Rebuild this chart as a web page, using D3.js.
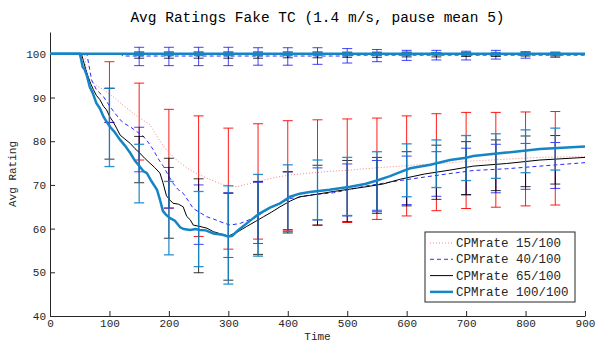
<!DOCTYPE html>
<html>
<head>
<meta charset="utf-8">
<script src="https://cdn.jsdelivr.net/npm/d3@7"></script>
<style>
  body { margin: 0; background: #fff; }
  svg { font-family: "Liberation Mono", monospace; }
  .axis path, .axis line { stroke: #262626; }
  .axis text { fill: #262626; font-size: 11px; font-family: "Liberation Mono", monospace; }
</style>
</head>
<body>
<div id="chart"></div>
<script>
// error bar sample times
const barTimes = [100, 150, 200, 250, 300, 350, 400, 450, 500, 550, 600, 650, 700, 750, 800, 850];
const topBarTimes = [150, 200, 250, 300, 350, 400, 450, 500, 550, 600, 650, 700, 750, 800, 850];

// lower curves (rating of fake TC nodes)
const redT = [0, 58, 62, 67, 73, 81, 90, 98, 106, 118, 129, 140, 151, 160, 168, 174, 180, 188, 196, 205, 213, 219, 228, 236, 247, 258, 275, 292, 314, 336, 359, 382, 404, 437, 470, 505, 547, 589, 630, 673, 712, 768, 824, 900];
const redV = [100, 100, 95.6, 94.3, 93.3, 92.5, 91.8, 91, 90.2, 88.8, 87.6, 86.4, 85.3, 84.5, 83.8, 82.5, 81.1, 79.5, 78, 76.8, 75.7, 75, 74.2, 73.4, 72.6, 71.9, 70.9, 70, 69.6, 70.3, 71.1, 71.8, 72.3, 72.7, 73.1, 73.4, 73.9, 74.3, 74.7, 75.1, 75.5, 75.9, 76.3, 76.5];

const blueT = [0, 62, 70, 78, 90, 101, 110, 118, 126, 135, 146, 157, 165, 174, 182, 191, 199, 207, 215, 224, 233, 241, 252, 264, 275, 286, 303, 320, 331, 342, 354, 365, 376, 387, 404, 421, 437, 477, 533, 589, 630, 673, 712, 768, 824, 900];
const blueV = [100, 100, 94, 91.8, 90.2, 87.9, 86.3, 84.9, 84, 83.3, 82.2, 81.1, 79.8, 78, 76, 74.2, 72.2, 70.4, 69, 68.1, 66.3, 64.6, 63.7, 62.7, 62.2, 61.6, 60.8, 61.2, 61.8, 62.4, 63.3, 64.3, 65.1, 65.8, 66.9, 67.2, 67.7, 68.2, 69.8, 71, 71.8, 72.6, 73.3, 73.7, 74.3, 75.1];

const blackT = [0, 53, 56, 60, 64, 69, 73, 78, 84, 90, 95, 101, 106, 112, 118, 126, 135, 143, 151, 160, 168, 176, 185, 190, 196, 202, 207, 216, 224, 230, 236, 241, 252, 264, 275, 287, 300, 315, 331, 345, 359, 373, 387, 404, 420, 437, 477, 533, 560, 589, 630, 673, 712, 768, 824, 900];
const blackV = [100, 100, 98.5, 96.5, 94.8, 93, 91.8, 90.5, 89.5, 88, 87.2, 85.5, 84.5, 83, 81.4, 80.5, 79.5, 78.3, 77.3, 76, 75, 74, 72.7, 70.5, 67.5, 66.5, 65.8, 65.6, 65, 62.8, 62, 60.8, 60.5, 60.1, 59.3, 58.8, 58.3, 59.2, 60.5, 61.6, 62.7, 63.8, 65, 66.3, 67.3, 67.6, 68.5, 69.6, 70.2, 71.3, 72.5, 73.4, 74.3, 74.9, 75.7, 76.3];

const cyanT = [0, 50, 52, 55, 58, 62, 67, 72, 78, 84, 90, 95, 101, 108, 118, 126, 135, 143, 151, 157, 163, 170, 180, 185, 190, 195, 202, 210, 219, 225, 236, 245, 252, 262, 275, 290, 300, 306, 318, 331, 342, 353, 370, 387, 404, 420, 437, 470, 505, 530, 550, 572, 590, 606, 640, 673, 700, 712, 768, 824, 900];
const cyanV = [100, 100, 99, 97, 96.5, 95, 92.4, 91, 88.7, 87.5, 85.6, 84.5, 83.3, 82.2, 80.3, 79, 77.3, 75.5, 74.2, 73.2, 72.7, 71, 68.9, 66.6, 64, 63.2, 62.4, 61.8, 60.3, 59.9, 59.7, 59.9, 59.7, 59.6, 58.9, 58.6, 58.2, 58.3, 59.8, 61.2, 62.4, 63.5, 64.8, 65.8, 67.3, 68, 68.4, 68.9, 69.6, 70.2, 71, 72, 73, 73.8, 74.6, 75.7, 76.2, 76.6, 77.4, 78.2, 78.8];

// upper curves (rating of honest nodes)
const redTopT = [0, 900];
const redTopV = [100, 100];
const blueTopT = [0, 120, 122, 500, 510, 900];
const blueTopV = [100, 100, 99.5, 99.5, 99.7, 99.7];
const blackTopT = [0, 900];
const blackTopV = [100, 100];
const cyanTopT = [0, 900];
const cyanTopV = [100, 100];

// error bars, lower curves
const redLo = [84.3, 75.7, 64.7, 58.2, 55.3, 57.6, 59.5, 60.8, 61.4, 62.1, 62.9, 64.1, 64.6, 64.9, 65.2, 65.4];
const redHi = [98.2, 93.3, 87.3, 85.8, 83.0, 84.0, 84.7, 84.9, 85.1, 85.3, 85.8, 86.3, 86.6, 86.6, 86.7, 86.8];
const blueLo = [84.3, 73.0, 64.7, 56.4, 53.4, 56.6, 59.8, 62.0, 62.9, 64.2, 65.5, 67.4, 67.7, 68.2, 69.0, 69.2];
const blueHi = [92.1, 83.2, 74.0, 70.0, 68.2, 70.6, 73.0, 73.9, 74.8, 75.6, 76.6, 77.6, 78.4, 79.3, 79.5, 79.7];
const blackLo = [75.9, 70.5, 57.8, 49.9, 48.2, 54.1, 59.0, 60.8, 61.6, 63.5, 65.2, 66.7, 67.8, 68.7, 69.6, 70.2];
const blackHi = [92.1, 81.1, 76.1, 71.4, 68.1, 70.8, 73.0, 74.5, 75.6, 76.3, 77.6, 79.1, 79.9, 80.3, 81.2, 81.3];
const cyanLo = [74.2, 65.9, 54.0, 51.3, 47.3, 53.7, 59.3, 62.0, 63.0, 63.9, 67.3, 69.4, 71.0, 71.5, 72.8, 73.4];
const cyanHi = [92.1, 79.3, 70.8, 68.5, 69.8, 72.4, 74.6, 75.7, 76.3, 77.6, 79.4, 80.3, 81.3, 81.7, 82.6, 83.0];

// error bars, upper curves
const blueTopLo = [97.3, 97.3, 97.3, 97.3, 97.4, 97.4, 97.6, 97.9, 98.2, 98.5, 98.6, 98.6, 98.8, 99.0, 99.2];
const blueTopHi = [101.5, 101.5, 101.5, 101.5, 101.4, 101.4, 101.4, 101.2, 101.0, 100.8, 100.8, 100.6, 100.8, 100.5, 100.4];
const blackTopLo = [99.0, 99.0, 99.0, 99.0, 99.0, 99.1, 99.1, 99.2, 99.2, 99.3, 99.3, 99.4, 99.4, 99.5, 99.5];
const blackTopHi = [100.4, 100.4, 100.4, 100.4, 100.4, 100.4, 100.4, 100.3, 100.3, 100.3, 100.3, 100.3, 100.2, 100.2, 100.2];
const cyanTopLo = [99.6, 99.6, 99.6, 99.6, 99.6, 99.6, 99.6, 99.6, 99.6, 99.6, 99.7, 99.7, 99.7, 99.7, 99.7];
const cyanTopHi = [100.4, 100.4, 100.4, 100.4, 100.4, 100.4, 100.4, 100.4, 100.4, 100.4, 100.3, 100.3, 100.3, 100.3, 100.3];

const xTicks = [0, 100, 200, 300, 400, 500, 600, 700, 800, 900];
const yTicks = [40, 50, 60, 70, 80, 90, 100];
const legendLabels = ["CPMrate 15/100", "CPMrate 40/100", "CPMrate 65/100", "CPMrate 100/100"];

const W = 597, H = 343;
const margin = {top: 32, right: 12, bottom: 27, left: 50};

const svg = d3.select("#chart").append("svg")
    .attr("width", W)
    .attr("height", H);

const x = d3.scaleLinear().domain([0, 900]).range([margin.left, W - margin.right]);
const y = d3.scaleLinear().domain([40, 105]).range([H - margin.bottom, margin.top]);

const zip = (ts, vs) => ts.map((t, i) => ({t: t, v: vs[i]}));

const series = [
    {low: zip(redT, redV), top: zip(redTopT, redTopV), lo: redLo, hi: redHi, tlo: null, thi: null,
     line: "#ff8080", width: 1, dash: "1,2", bar: "#ff0000", barOpacity: 0.9, barWidth: 1},
    {low: zip(blueT, blueV), top: zip(blueTopT, blueTopV), lo: blueLo, hi: blueHi, tlo: blueTopLo, thi: blueTopHi,
     line: "#2a2aff", width: 1, dash: "4,3", bar: "#0000ff", barOpacity: 0.75, barWidth: 1},
    {low: zip(blackT, blackV), top: zip(blackTopT, blackTopV), lo: blackLo, hi: blackHi, tlo: blackTopLo, thi: blackTopHi,
     line: "#000000", width: 1, dash: null, bar: "#000000", barOpacity: 0.8, barWidth: 1},
    {low: zip(cyanT, cyanV), top: zip(cyanTopT, cyanTopV), lo: cyanLo, hi: cyanHi, tlo: cyanTopLo, thi: cyanTopHi,
     line: "#1585c6", width: 2.5, dash: null, bar: "#1585c6", barOpacity: 0.9, barWidth: 1.3}
];

// axes
svg.append("g")
    .attr("class", "axis")
    .attr("transform", "translate(0," + (H - margin.bottom) + ")")
    .call(d3.axisBottom(x).tickValues(xTicks).tickSizeInner(-5).tickSizeOuter(0).tickPadding(3).tickFormat(d3.format("d")));

svg.append("g")
    .attr("class", "axis")
    .attr("transform", "translate(" + margin.left + ",0)")
    .call(d3.axisLeft(y).tickValues(yTicks).tickSizeInner(-5).tickSizeOuter(0).tickPadding(4).tickFormat(d3.format("d")));

const line = d3.line()
    .x(d => x(d.t))
    .y(d => y(d.v));

function drawBars(g, times, lo, hi, s) {
    const cap = 5;
    times.forEach((t, i) => {
        const bg = g.append("g")
            .attr("stroke", s.bar)
            .attr("stroke-opacity", s.barOpacity)
            .attr("stroke-width", s.barWidth);
        bg.append("line")
            .attr("x1", x(t)).attr("x2", x(t))
            .attr("y1", y(lo[i])).attr("y2", y(hi[i]));
        bg.append("line")
            .attr("x1", x(t) - cap).attr("x2", x(t) + cap)
            .attr("y1", y(lo[i])).attr("y2", y(lo[i]));
        bg.append("line")
            .attr("x1", x(t) - cap).attr("x2", x(t) + cap)
            .attr("y1", y(hi[i])).attr("y2", y(hi[i]));
    });
}

series.forEach(s => {
    const g = svg.append("g");
    drawBars(g, barTimes, s.lo, s.hi, s);
    if (s.tlo) drawBars(g, topBarTimes, s.tlo, s.thi, s);
    [s.top, s.low].forEach(data => {
        g.append("path")
            .datum(data)
            .attr("d", line)
            .attr("fill", "none")
            .attr("stroke", s.line)
            .attr("stroke-width", s.width)
            .attr("stroke-dasharray", s.dash);
    });
});

// title and labels
svg.append("text")
    .attr("x", (margin.left + W - margin.right) / 2)
    .attr("y", 22)
    .attr("text-anchor", "middle")
    .style("font-size", "14.5px")
    .attr("fill", "#000")
    .text("Avg Ratings Fake TC (1.4 m/s, pause mean 5)");

svg.append("text")
    .attr("x", (margin.left + W - margin.right) / 2)
    .attr("y", 340)
    .attr("text-anchor", "middle")
    .style("font-size", "11px")
    .attr("fill", "#262626")
    .text("Time");

svg.append("text")
    .attr("transform", "translate(16," + ((margin.top + H - margin.bottom) / 2) + ") rotate(-90)")
    .attr("text-anchor", "middle")
    .style("font-size", "11px")
    .attr("fill", "#262626")
    .text("Avg Rating");

// legend
const legend = svg.append("g").attr("transform", "translate(425,232)");
legend.append("rect")
    .attr("width", 150).attr("height", 70)
    .attr("fill", "#fff").attr("stroke", "#262626").attr("stroke-width", 1);

const legendStyles = [
    {color: "#ff8080", width: 1, dash: "1,2"},
    {color: "#5a5aff", width: 1.2, dash: "4,3"},
    {color: "#000000", width: 1, dash: null},
    {color: "#1585c6", width: 2.5, dash: null}
];
legendLabels.forEach((lab, i) => {
    const yy = 11 + i * 16.3;
    legend.append("line")
        .attr("x1", 5).attr("x2", 28)
        .attr("y1", yy).attr("y2", yy)
        .attr("stroke", legendStyles[i].color)
        .attr("stroke-width", legendStyles[i].width)
        .attr("stroke-dasharray", legendStyles[i].dash);
    legend.append("text")
        .attr("x", 31).attr("y", yy + 4)
        .style("font-size", "12.5px")
        .attr("fill", "#262626")
        .text(lab);
});
</script>
</body>
</html>
